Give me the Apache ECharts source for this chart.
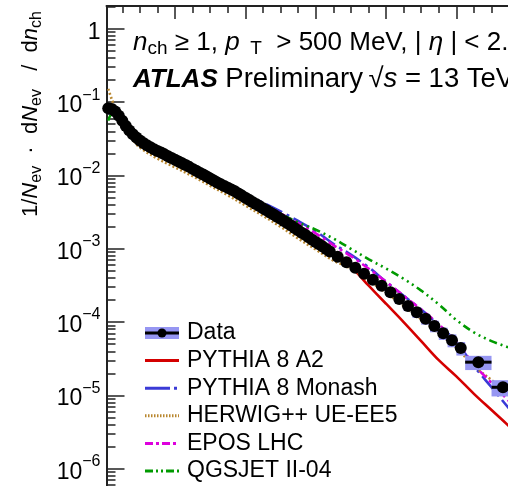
<!DOCTYPE html>
<html><head><meta charset="utf-8">
<script src="https://cdn.jsdelivr.net/npm/echarts@6/dist/echarts.min.js"></script>
<style>html,body{margin:0;padding:0;background:#fff}#c{width:508px;height:486px}</style>
</head><body><div id="c"></div>
<script>
// ---- Data ----
const dataN = [1,2,3,4,5,6,7,8,9,10,11,12,13,14,15,16,17,18,19,20,21,22,23,24,25,26,27,28,29,30,
  31,32,33,34,35,36,37,38,39,40,41,42,43,44,45,46,47,48,49,50,51,52,53,54,55,56,57,58,59,60,61,62,63,64,
  66.25,68.75,71.25,73.75,76.25,78.75,81.25,83.75,86.25,88.75,91.25,93.75,96.25,98.75,101.25,
  106.25,113.25];
const dataHalfWidth = [0.5,0.5,0.5,0.5,0.5,0.5,0.5,0.5,0.5,0.5,0.5,0.5,0.5,0.5,0.5,0.5,0.5,0.5,0.5,0.5,
  0.5,0.5,0.5,0.5,0.5,0.5,0.5,0.5,0.5,0.5,0.5,0.5,0.5,0.5,0.5,0.5,0.5,0.5,0.5,0.5,0.5,0.5,0.5,0.5,0.5,
  0.5,0.5,0.5,0.5,0.5,0.5,0.5,0.5,0.5,0.5,0.5,0.5,0.5,0.5,0.5,0.5,0.5,0.5,0.5,
  1.25,1.25,1.25,1.25,1.25,1.25,1.25,1.25,1.25,1.25,1.25,1.25,1.25,1.25,1.25,
  3.75,3.25];
const dataVal = [0.0828,0.0807,0.0745,0.0652,0.0556,0.0474,0.0412,0.0366,0.0330,0.0301,
  0.0278,0.0258,0.0242,0.0228,0.0216,0.0205,0.0194,0.0183,0.0173,0.0164,
  0.0155,0.0147,0.0139,0.0131,0.0123,0.0116,0.0109,0.0103,0.00966,0.00908,
  0.00853,0.00802,0.00759,0.00719,0.00681,0.00644,0.00607,0.00568,0.00531,0.00497,
  0.00465,0.00436,0.00408,0.00382,0.00358,0.00335,0.00313,0.00293,0.00274,0.00256,
  0.00239,0.00223,0.00207,0.00192,0.00179,0.00166,0.00155,0.00144,0.00133,0.00124,
  0.00115,0.00107,0.000991,0.000918,
  7.78e-4,6.53e-4,5.52e-4,4.58e-4,3.78e-4,3.12e-4,2.56e-4,2.06e-4,1.66e-4,1.36e-4,
  1.11e-4,8.85e-5,7.05e-5,5.66e-5,4.42e-5,
  2.84e-5,1.29e-5];
const dataSyst = [0.03,0.03,0.03,0.03,0.03,0.03,0.03,0.03,0.03,0.03,0.03,0.03,0.03,0.03,0.03,
  0.03,0.03,0.03,0.03,0.03,0.03,0.03,0.03,0.03,0.03,0.03,0.03,0.03,0.03,0.03,
  0.04,0.04,0.04,0.04,0.04,0.04,0.04,0.04,0.04,0.04,0.04,0.04,0.04,0.04,0.04,0.04,0.04,0.04,0.04,0.04,
  0.06,0.06,0.06,0.06,0.06,0.06,0.06,0.06,0.06,0.06,0.06,0.06,0.06,0.06,
  0.09,0.10,0.10,0.11,0.12,0.13,0.13,0.14,0.15,0.16,0.17,0.18,0.19,0.20,0.21,
  0.22,0.25];

const modelN = [1,2,4,6,8,10,15,20,25,30,35,40,45,50,55,60,65,70,75,80,85,90,95,100,105,110,115,120];
const pythiaA2 = [0.0794,0.0790,0.0646,0.0468,0.0363,0.0295,0.0209,0.0158,0.01175,8.71e-3,6.46e-3,4.68e-3,
  3.39e-3,2.40e-3,1.70e-3,1.17e-3,8.32e-4,5.69e-4,3.16e-4,1.78e-4,1.00e-4,5.50e-5,3.02e-5,1.82e-5,
  1.05e-5,6.31e-6,3.80e-6,2.24e-6];
const pythiaMonash = [0.0692,0.0741,0.0646,0.0479,0.0372,0.0309,0.0224,0.0170,0.0129,9.55e-3,7.24e-3,5.50e-3,
  4.27e-3,3.24e-3,2.40e-3,1.74e-3,1.17e-3,8.32e-4,5.62e-4,3.55e-4,2.29e-4,1.48e-4,9.12e-5,5.37e-5,
  2.51e-5,1.29e-5,6.61e-6,3.55e-6];
const herwig = [0.152,0.1096,0.0631,0.0427,0.0309,0.0240,0.0170,0.0129,9.77e-3,7.24e-3,5.37e-3,3.89e-3,
  2.82e-3,2.00e-3,1.38e-3,9.77e-4,6.92e-4,5.37e-4,3.72e-4,2.51e-4,1.66e-4,1.10e-4,7.08e-5,4.47e-5,
  2.51e-5,1.62e-5,1.00e-5,6.31e-6];
const eposLHC = [0.0759,0.0776,0.0646,0.0479,0.0363,0.0302,0.0219,0.0166,0.0126,9.33e-3,7.08e-3,5.25e-3,
  3.98e-3,3.02e-3,2.24e-3,1.62e-3,1.12e-3,7.94e-4,5.37e-4,3.55e-4,2.29e-4,1.48e-4,9.33e-5,5.37e-5,
  2.63e-5,1.48e-5,8.32e-6,4.68e-6];
const qgsjet = [0.0562,0.0676,0.0617,0.0468,0.0363,0.0295,0.0214,0.0166,0.0126,9.55e-3,7.24e-3,5.50e-3,
  4.07e-3,3.02e-3,2.29e-3,1.82e-3,1.38e-3,1.00e-3,7.24e-4,5.37e-4,3.89e-4,2.69e-4,1.74e-4,1.07e-4,
  7.24e-5,5.50e-5,4.47e-5,3.55e-5];

const seriesNames = ['Data','PYTHIA 8 A2','PYTHIA 8 Monash','HERWIG++ UE-EE5','EPOS LHC','QGSJET II-04'];
const yLabelValues = [1e-6,1e-5,1e-4,1e-3,1e-2,1e-1,1];
const yMajorTicks = [1e-7,1e-6,1e-5,1e-4,1e-3,1e-2,1e-1,1];
const xMajorTicks = [20,40,60,80,100,120,140];
const xMinorTicks = [5,10,15,25,30,35,45,50,55,65,70,75,85,90,95,105,110,115,125,130,135];

// ---- derived helpers ----
const yMinorTicks = [];
for (let e = -7; e <= 0; e++) for (let m = 2; m <= 9; m++) { const v = m * Math.pow(10, e); if (v < 2.05) yMinorTicks.push(+v.toPrecision(3)); }
const zip = (xs, ys) => xs.map((x, i) => [x, ys[i]]);
const dataItems = dataN.map((n, i) => [n, dataVal[i], dataHalfWidth[i], dataSyst[i]]);

const FONT = 'Liberation Sans, Arial, Helvetica, sans-serif';
const COL = {a2:'#d40000', monash:'#3a3ad6', herwig:'#b8862e', epos:'#dd00dd', qgs:'#009a00', band:'rgb(150,150,242)'};

function svgIcon(inner){
  return 'image://data:image/svg+xml;charset=utf-8,' + encodeURIComponent(
    "<svg xmlns='http://www.w3.org/2000/svg' width='34' height='14' viewBox='0 0 34 14'>" + inner + "</svg>");
}
const icons = [
  svgIcon("<rect x='0' y='1' width='34' height='12' fill='" + COL.band + "'/><line x1='0' y1='7' x2='34' y2='7' stroke='black' stroke-width='3'/><circle cx='17' cy='7' r='4.5' fill='black'/>"),
  svgIcon("<line x1='0' y1='7' x2='34' y2='7' stroke='" + COL.a2 + "' stroke-width='3'/>"),
  svgIcon("<line x1='0' y1='7' x2='34' y2='7' stroke='" + COL.monash + "' stroke-width='3' stroke-dasharray='25 4 3 4'/>"),
  svgIcon("<line x1='0' y1='7' x2='34' y2='7' stroke='" + COL.herwig + "' stroke-width='3' stroke-dasharray='1.5 1.5'/>"),
  svgIcon("<line x1='0' y1='7' x2='34' y2='7' stroke='" + COL.epos + "' stroke-width='3' stroke-dasharray='8 3 3 3'/>"),
  svgIcon("<line x1='0' y1='7' x2='34' y2='7' stroke='" + COL.qgs + "' stroke-width='3' stroke-dasharray='8 3 2 3 2 3'/>")
];

function renderData(params, api){
  const n = api.value(0), v = api.value(1), hw = api.value(2), e = api.value(3);
  const l = api.coord([n - hw, v]), r = api.coord([n + hw, v]);
  const t = api.coord([n, v * (1 + e)]), b = api.coord([n, v * (1 - e)]);
  const c = api.coord([n, v]);
  return {type:'group', children:[
    {type:'rect', z2:0, shape:{x:l[0], y:t[1], width:r[0]-l[0], height:b[1]-t[1]}, style:{fill:COL.band}},
    {type:'line', z2:5, shape:{x1:l[0], y1:c[1], x2:r[0], y2:c[1]}, style:{stroke:'#000', lineWidth:3}},
    {type:'circle', z2:10, shape:{cx:c[0], cy:c[1], r:6}, style:{fill:'#000'}}
  ]};
}

function modelSeries(name, values, color, dash){
  return {name, type:'line', z:2, data: zip(modelN, values), showSymbol:false, symbol:'none',
    smooth:0.35, clip:true, lineStyle:{color, width:2.6, type:dash}, itemStyle:{color}};
}

const chart = echarts.init(document.getElementById('c'), null, {renderer:'canvas'});
chart.setOption({
  animation:false,
  backgroundColor:'#fff',
  grid:{left:106.5, top:6, width:499.3, height:536, containLabel:false, outerBoundsMode:'none'},
  xAxis:[
    {type:'value', position:'top', min:0.5, max:142.5,
      axisLine:{show:true, lineStyle:{color:'#222', width:2}},
      axisTick:{show:true, inside:true, length:13, customValues:xMajorTicks, lineStyle:{color:'#222', width:1.5}},
      axisLabel:{show:false}, splitLine:{show:false}},
    {type:'value', position:'top', min:0.5, max:142.5,
      axisLine:{show:false},
      axisTick:{show:true, inside:true, length:7, customValues:xMinorTicks, lineStyle:{color:'#222', width:1.5}},
      axisLabel:{show:false}, splitLine:{show:false}}
  ],
  yAxis:[
    {type:'log', logBase:10, min:1e-7, max:2.05, position:'left',
      axisLine:{show:true, lineStyle:{color:'#222', width:2}},
      axisTick:{show:true, inside:true, length:18, customValues:yMajorTicks, lineStyle:{color:'#222', width:1.5}},
      axisLabel:{show:true, customValues:yLabelValues, margin:6, color:'#000',
        formatter:function(v){
          const k = Math.round(Math.log10(v));
          if (k === 0) return '{a|1}';
          return '{a|10}{b|\u2212' + (-k) + '}';
        },
        rich:{a:{fontSize:23, lineHeight:30, verticalAlign:'bottom', fontFamily:FONT, color:'#000'},
              b:{fontSize:16, lineHeight:16, verticalAlign:'top', fontFamily:FONT, color:'#000'}}},
      splitLine:{show:false}},
    {type:'log', logBase:10, min:1e-7, max:2.05, position:'left',
      axisLine:{show:false},
      axisTick:{show:true, inside:true, length:9, customValues:yMinorTicks, lineStyle:{color:'#222', width:1.5}},
      axisLabel:{show:false}, splitLine:{show:false}}
  ],
  legend:{
    orient:'vertical', left:145, top:321, padding:0, itemGap:3.6, itemWidth:34, itemHeight:14,
    textStyle:{fontSize:23, lineHeight:24, fontFamily:FONT, color:'#000', padding:[0,0,0,3]},
    data: seriesNames.map((n, i) => ({name:n, icon:icons[i]})),
    selectedMode:false
  },
  graphic:[
    {type:'text', x:31, y:114, rotation:Math.PI/2, z:10,
      style:{text:'{r|1/}{i|N}{s|ev}{r|  \u00b7  d}{i|N}{s|ev}{r|   /  d}{i|n}{s|ch}',
        align:'center', verticalAlign:'middle',
        rich:{r:{fontSize:22, lineHeight:28, fontFamily:FONT, fill:'#000'},
              i:{fontSize:22, lineHeight:28, fontStyle:'italic', fontFamily:FONT, fill:'#000'},
              s:{fontSize:16, lineHeight:16, verticalAlign:'bottom', fontFamily:FONT, fill:'#000'}}}},
    {type:'text', x:133, y:27, z:10,
      style:{text:'{i|n}{s|ch}{r| \u2265 1, }{i|p}{s|  T}{r|  > 500 MeV, | }{i|\u03b7}{r| | < 2.5}',
        align:'left', verticalAlign:'top',
        rich:{r:{fontSize:26, lineHeight:31, fontFamily:FONT, fill:'#000'},
              i:{fontSize:26, lineHeight:31, fontStyle:'italic', fontFamily:FONT, fill:'#000'},
              s:{fontSize:19, lineHeight:19, verticalAlign:'bottom', fontFamily:FONT, fill:'#000'}}}},
    {type:'text', x:133, y:64, z:10,
      style:{text:'{b|ATLAS}{r| Preliminary\u2009\u221a}{i|s}{r| = 13 TeV}',
        align:'left', verticalAlign:'top',
        rich:{r:{fontSize:27.5, lineHeight:31, fontFamily:FONT, fill:'#000'},
              i:{fontSize:27.5, lineHeight:31, fontStyle:'italic', fontFamily:FONT, fill:'#000'},
              b:{fontSize:26, lineHeight:31, fontStyle:'italic', fontWeight:'bold', fontFamily:FONT, fill:'#000'}}}}
  ],
  series:[
    modelSeries(seriesNames[1], pythiaA2, COL.a2, 'solid'),
    modelSeries(seriesNames[2], pythiaMonash, COL.monash, [18,5,3,5]),
    modelSeries(seriesNames[3], herwig, COL.herwig, [2,2.2]),
    modelSeries(seriesNames[4], eposLHC, COL.epos, [9,4,3,4]),
    modelSeries(seriesNames[5], qgsjet, COL.qgs, [8,4,2,4,2,4,2,4]),
    {name:seriesNames[0], type:'custom', z:3, clip:false, renderItem:renderData,
      encode:{x:0, y:1}, data:dataItems, itemStyle:{color:'#000'}}
  ]
});
</script></body></html>
